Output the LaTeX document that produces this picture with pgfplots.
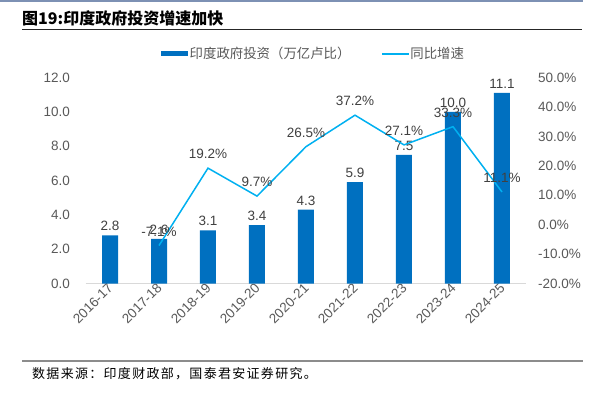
\documentclass[border=0pt]{standalone}
\usepackage{fontspec}
\usepackage{pgfplots}
\pgfplotsset{compat=1.18}
\setmainfont{Liberation Sans}
\newfontfamily\cjk{Noto Sans CJK SC}
\newfontfamily\cjksrc[LetterSpace=10]{Noto Sans CJK SC}
\definecolor{barblue}{RGB}{0,112,192}
\definecolor{lineblue}{RGB}{0,176,240}
\definecolor{ticktxt}{RGB}{89,89,89}
\definecolor{labtxt}{RGB}{64,64,64}
\definecolor{basegray}{RGB}{217,217,217}
\definecolor{topc}{RGB}{125,145,180}
\begin{document}
\begin{tikzpicture}
\path[use as bounding box] (0pt,0pt) rectangle (594pt,-394pt);
\draw[line width=1.5pt, topc] (0pt,-0.75pt) -- (583pt,-0.75pt);
\node[anchor=west, inner sep=0pt, font=\cjk\bfseries\fontsize{16}{16}\selectfont] at (22pt,-18pt) {图19:印度政府投资增速加快};
\draw[line width=1pt, black!85] (22pt,-29pt) -- (582pt,-29pt);
\draw[line width=1.5pt, black!45] (22pt,-361pt) -- (583pt,-361pt);
\node[anchor=west, inner sep=0pt, font=\cjksrc\fontsize{13}{13}\selectfont] at (32pt,-374pt) {数据来源：印度财政部，国泰君安证券研究。};

\begin{axis}[
  at={(85.5pt,-283.5pt)}, anchor=south west,
  width=441pt, height=206pt, scale only axis,
  xmin=-0.5, xmax=8.5, ymin=0, ymax=12,
  axis x line*=bottom, axis y line*=left,
  x axis line style={draw=basegray, line width=1pt, -},
  y axis line style={draw=none},
  major tick length=0pt,
  xtick={0,...,8},
  xticklabels={2016-17,2017-18,2018-19,2019-20,2020-21,2021-22,2022-23,2023-24,2024-25},
  xticklabel style={rotate=45, anchor=east, font=\fontsize{13.5}{13.5}\selectfont, text=ticktxt, xshift=2pt, yshift=-2pt},
  ytick={0,2,...,12},
  yticklabel={\pgfmathprintnumber[fixed,fixed zerofill,precision=1,assume math mode=true]{\tick}},
  yticklabel style={font=\fontsize{13.5}{13.5}\selectfont, text=ticktxt, xshift=-12pt},
  legend style={at={(0.1712,1.1165)}, anchor=west, draw=none, inner sep=0pt, fill=none,
    legend columns=2, font=\cjk\fontsize{13.4}{13.4}\selectfont,
    nodes={inner xsep=2pt, inner ysep=0pt},
    /tikz/every even column/.append style={column sep=29pt}},
  legend cell align=left,
]
\addplot[ybar, bar width=16pt, fill=barblue, draw=none,
  nodes near coords={\pgfmathprintnumber[fixed,fixed zerofill,precision=1,assume math mode=true]{\pgfplotspointmeta}},
  every node near coord/.append style={font=\fontsize{13.5}{13.5}\selectfont, text=labtxt, yshift=1pt},
  legend image code/.code={\fill[barblue] (0pt,-2.75pt) rectangle (26.5pt,2.75pt);}]
  coordinates {(0,2.8) (1,2.6) (2,3.1) (3,3.4) (4,4.3) (5,5.9) (6,7.5) (7,10.0) (8,11.1)};
\addlegendentry{\textcolor{ticktxt}{印度政府投资（万亿卢比）}}
\addlegendimage{legend image code/.code={\fill[lineblue] (0pt,-0.8pt) rectangle (26.5pt,0.8pt);}}
\addlegendentry{\textcolor{ticktxt}{同比增速}}
\end{axis}

\begin{axis}[
  at={(85.5pt,-283.5pt)}, anchor=south west,
  width=441pt, height=206pt, scale only axis,
  xmin=-0.5, xmax=8.5, ymin=-20, ymax=50,
  axis x line=none, axis y line*=right,
  y axis line style={draw=none},
  major tick length=0pt,
  ytick={-20,-10,...,50},
  yticklabel={\pgfmathprintnumber[fixed,fixed zerofill,precision=1,assume math mode=true]{\tick}\%},
  yticklabel style={font=\fontsize{13.5}{13.5}\selectfont, text=ticktxt, xshift=8pt},
]
\addplot[lineblue, line width=1.5pt, mark=none,
  nodes near coords={\pgfmathprintnumber[fixed,fixed zerofill,precision=1,assume math mode=true]{\pgfplotspointmeta}\%},
  every node near coord/.append style={anchor=south, font=\fontsize{13.5}{13.5}\selectfont, text=labtxt, yshift=5pt}]
  coordinates {(1,-7.1) (2,19.2) (3,9.7) (4,26.5) (5,37.2) (6,27.1) (7,33.3) (8,11.1)};
\end{axis}
\end{tikzpicture}
\end{document}
